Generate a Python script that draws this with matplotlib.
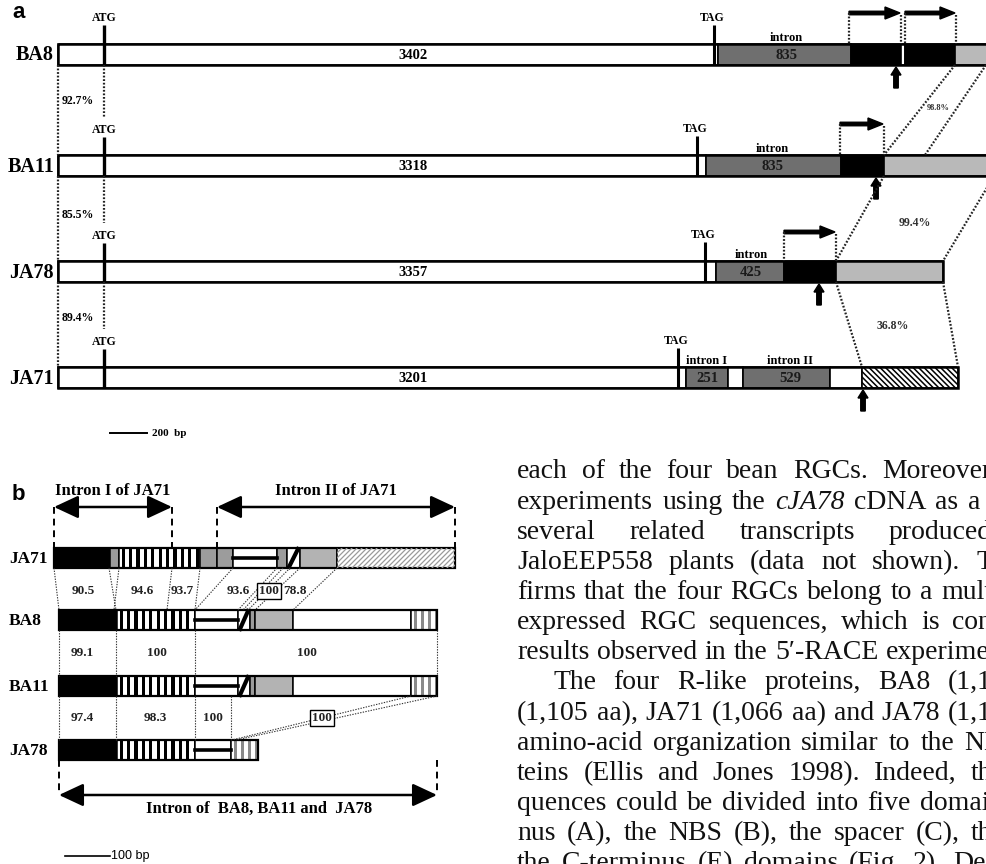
import numpy as np
import matplotlib.pyplot as plt
from matplotlib.patches import Rectangle

SERIF = ['Liberation Serif', 'DejaVu Serif']
SANS = ['Liberation Sans', 'DejaVu Sans']

# ---------------- panel a data ----------------
genes_a = ['BA8', 'BA11', 'JA78', 'JA71']
cds_len = ['3402', '3318', '3357', '3201']
atg_identity = ['92.7%', '85.5%', '89.4%']
atg_identity_y = [101, 215, 318]
row_top_a = [44, 155, 261, 367]
tag_x = [714, 697, 705, 678]
seg_a = [
    [(58, 714, 'white'), (714, 718, 'white'), (718, 851, 'dark'), (851, 901, 'black'),
     (901, 905, 'white'), (905, 955, 'black'), (955, 1010, 'light')],
    [(58, 697, 'white'), (697, 706, 'white'), (706, 841, 'dark'), (841, 884, 'black'),
     (884, 1010, 'light')],
    [(58, 705, 'white'), (705, 716, 'white'), (716, 784, 'dark'), (784, 836, 'black'),
     (836, 943, 'light')],
    [(58, 678, 'white'), (678, 686, 'white'), (686, 728, 'dark'), (728, 743, 'white'),
     (743, 830, 'dark'), (830, 862, 'white'), (862, 958, 'hatch')],
]
intron_lbl = [[('intron', '835', 786)], [('intron', '835', 772)], [('intron', '425', 751)],
              [('intron I', '251', 707), ('intron II', '529', 790)]]
tss_arrows = [[(849, 900), (905, 955)], [(840, 883)], [(784, 835)], []]
tss_y = [13, 124, 232, None]
up_arrow_x = [896, 876, 819, 863]
utr_identity = [('98.8%', 938, 108, 6), ('99.4%', 915, 223, 8.5), ('36.8%', 893, 326, 8.5)]
utr_links = [((955, 65), (884, 155)), ((986, 65), (925, 155)),
             ((884, 176), (836, 261)), ((994, 176), (943, 261)),
             ((836, 282), (862, 367)), ((943, 282), (958, 367))]

# ---------------- panel b data ----------------
genes_b = ['JA71', 'BA8', 'BA11', 'JA78']
row_top_b = [548, 610, 676, 740]
seg_b = [
    [(54, 110, 'black'), (110, 119, 'gray'), (119, 200, 'stripe'), (200, 217, 'gray'),
     (217, 233, 'gray'), (233, 277, 'hline'), (277, 287, 'gray'), (287, 300, 'slash'),
     (300, 337, 'light'), (337, 455, 'hatch')],
    [(59, 117, 'black'), (117, 195, 'stripe'), (195, 238, 'hline'), (238, 250, 'slash'),
     (250, 255, 'gray'), (255, 293, 'light'), (293, 411, 'white'), (411, 437, 'gstripe')],
    [(59, 117, 'black'), (117, 195, 'stripe'), (195, 238, 'hline'), (238, 250, 'slash'),
     (250, 255, 'gray'), (255, 293, 'light'), (293, 411, 'white'), (411, 437, 'gstripe')],
    [(59, 117, 'black'), (117, 195, 'stripe'), (195, 231, 'hline'), (231, 258, 'gstripe')],
]
links_b = [
    [(54, 59), (109, 116), (119, 114), (172, 167), (200, 195), (233, 195), (277, 238),
     (283, 243), (290, 248), (300, 255), (337, 293)],
    [(59, 59), (116, 116), (195, 195), (437, 437)],
    [(59, 59), (116, 116), (195, 195), (231, 231), (411, 232), (437, 236)],
]
ident_b = [
    [('90.5', 83), ('94.6', 142), ('93.7', 182), ('93.6', 238), ('100', 269), ('78.8', 295)],
    [('99.1', 82), ('100', 157), ('100', 307)],
    [('97.4', 82), ('98.3', 155), ('100', 213), ('100', 322)],
]
ident_b_y = [591, 653, 718]
boxed_b = [(0, 4), (2, 3)]

# ---------------- body text (justified column, cut at the right edge) ----------------
body_y0 = 472
body_dy = 30.14
body_lines = [
    'each of the four bean RGCs. Moreover',
    'experiments using the cJA78 cDNA as a',
    'several related transcripts produced',
    'JaloEEP558 plants (data not shown). T',
    'firms that the four RGCs belong to a mult',
    'expressed RGC sequences, which is con',
    'results observed in the 5\u2032-RACE experime',
    'The four R-like proteins, BA8 (1,1',
    '(1,105 aa), JA71 (1,066 aa) and JA78 (1,1',
    'amino-acid organization similar to the NB',
    'teins (Ellis and Jones 1998). Indeed, th',
    'quences could be divided into five domai',
    'nus (A), the NBS (B), the spacer (C), th',
    'the C-terminus (E) domains (Fig. 2). De',
]
body_left = [517, 517, 517, 517, 517, 517, 517, 553, 517, 517, 517, 517, 517, 517]
body_right = [991, 980, 992, 993, 992, 992, 990, 992, 992, 1003, 992, 990, 992, 986]
italic_words = ['cJA78']

fill_a = {'white': 'white', 'dark': '#6f6f6f', 'black': 'black', 'light': '#b9b9b9', 'hatch': 'white'}
fill_b = {'white': 'white', 'black': 'black', 'gray': '#9c9c9c', 'light': '#b3b3b3'}

fig = plt.figure(figsize=(9.87, 8.64), dpi=100)
ax = fig.add_axes([0, 0, 1, 1])
ax.set_xlim(0, 987)
ax.set_ylim(864, 0)
ax.axis('off')


def dotted(p0, p1, lw=1.6, color='#222222'):
    ax.plot([p0[0], p1[0]], [p0[1], p1[1]], color=color, lw=lw, ls=(0, (0.8, 0.8)))


def diag(x0, x1, y0, y1, step, color, lw, forward):
    clip = Rectangle((x0, y0), x1 - x0, y1 - y0, fc='white', ec='none')
    ax.add_patch(clip)
    h = y1 - y0
    for s in np.arange(x0 - h, x1 + h, step):
        if forward:
            ln, = ax.plot([s, s + h], [y1, y0], color=color, lw=lw)
        else:
            ln, = ax.plot([s, s + h], [y0, y1], color=color, lw=lw)
        ln.set_clip_path(clip)


def vstripes(x0, x1, y0, y1, step, width, color):
    ax.add_patch(Rectangle((x0, y0), x1 - x0, y1 - y0, fc='white', ec='none'))
    for s in np.arange(x0 + 2.5, x1 - 1, step):
        ax.add_patch(Rectangle((s, y0), width, y1 - y0, fc=color, ec='none'))


# ================= panel a =================
ax.text(12, 12, 'a', family=SANS, weight='bold', fontsize=16, va='center', ha='left')
h_a = 21
for i, g in enumerate(genes_a):
    top = row_top_a[i]
    bot = top + h_a
    for x0, x1, kind in seg_a[i]:
        if kind == 'hatch':
            diag(x0, x1, top, bot, 5.5, 'black', 1.1, False)
            ax.add_patch(Rectangle((x0, top), x1 - x0, h_a, fc='none', ec='black', lw=1.2))
        else:
            ax.add_patch(Rectangle((x0, top), x1 - x0, h_a, fc=fill_a[kind], ec='black', lw=1.2))
    bar_end = seg_a[i][-1][1]
    ax.add_patch(Rectangle((58, top), bar_end - 58, h_a, fc='none', ec='black', lw=1.8))
    ax.text(54, top + h_a / 2 + 1, g, family=SERIF, weight='bold', fontsize=14.5, ha='right', va='center')
    ax.text(413, top + h_a / 2 + 1, cds_len[i], family=SERIF, weight='bold', fontsize=10.5, ha='center', va='center')
    # ATG
    atg_top = top - 19 if i == 0 else top - 18
    ax.plot([104, 104], [atg_top, bot], color='black', lw=2.4, solid_capstyle='butt')
    ax.text(104, atg_top - 7, 'ATG', family=SERIF, weight='bold', fontsize=8.5, ha='center', va='center')
    # TAG
    ax.plot([tag_x[i], tag_x[i]], [top - 19, bot], color='black', lw=2.2, solid_capstyle='butt')
    ax.text(tag_x[i] - 2, top - 26, 'TAG', family=SERIF, weight='bold', fontsize=8.5, ha='center', va='center')
    for lab, num, x in intron_lbl[i]:
        ax.text(x, top - 6, lab, family=SERIF, weight='bold', fontsize=9, ha='center', va='center')
        ax.text(x, top + h_a / 2 + 1, num, family=SERIF, weight='bold', fontsize=10.5, ha='center', va='center',
                color='#1a1a1a')
    # transcription start arrows
    for x0, x1 in tss_arrows[i]:
        y = tss_y[i]
        dotted((x0, y), (x0, top))
        dotted((x1 + 1, y + 2), (x1 + 1, top))
        ax.arrow(x0, y, x1 - x0, 0, width=3.5, head_width=12, head_length=15,
                 length_includes_head=True, fc='black', ec='black')
    # up arrow
    ax.arrow(up_arrow_x[i], bot + 23, 0, -21, width=4.5, head_width=10, head_length=8,
             length_includes_head=True, fc='black', ec='black')
    # ATG identity links
    if i < 3:
        nxt = row_top_a[i + 1]
        dotted((58, bot), (58, nxt))
        dotted((104, bot), (104, nxt - 38))
        ax.text(62, atg_identity_y[i], atg_identity[i], family=SERIF, weight='bold', fontsize=8.5,
                ha='left', va='center')

for p0, p1 in utr_links:
    dotted(p0, p1)
for t, x, y, fs in utr_identity:
    ax.text(x, y, t, family=SERIF, weight='bold', fontsize=fs, ha='center', va='center', color='#333333')

ax.plot([110, 147], [433, 433], color='black', lw=1.4)
ax.text(152, 433, '200  bp', family=SERIF, weight='bold', fontsize=8, ha='left', va='center')

# ================= panel b =================
ax.text(12, 495, 'b', family=SANS, weight='bold', fontsize=16, va='center', ha='left')
h_b = 20
for i, g in enumerate(genes_b):
    top = row_top_b[i]
    bot = top + h_b
    for x0, x1, kind in seg_b[i]:
        if kind == 'stripe':
            vstripes(x0, x1, top, bot, 7.4, 3.2, 'black')
        elif kind == 'gstripe':
            vstripes(x0, x1, top, bot, 7.0, 3.0, '#8a8a8a')
        elif kind == 'hatch':
            diag(x0, x1, top, bot, 5.0, '#9a9a9a', 0.9, True)
        elif kind == 'hline':
            ax.add_patch(Rectangle((x0, top), x1 - x0, h_b, fc='white', ec='none'))
            ax.plot([x0, x1], [top + h_b / 2, top + h_b / 2], color='black', lw=2.6)
        elif kind == 'slash':
            ax.add_patch(Rectangle((x0, top), x1 - x0, h_b, fc='white', ec='none'))
            ax.plot([x0 + 2, x1 - 2], [bot - 1, top + 1], color='black', lw=3.0)
        else:
            ax.add_patch(Rectangle((x0, top), x1 - x0, h_b, fc=fill_b[kind], ec='none'))
        ax.add_patch(Rectangle((x0, top), x1 - x0, h_b, fc='none', ec='black', lw=1.1))
    x_start = seg_b[i][0][0]
    x_end = seg_b[i][-1][1]
    ax.add_patch(Rectangle((x_start, top), x_end - x_start, h_b, fc='none', ec='black', lw=1.6))
    ax.text(9, top + h_b / 2 + 1, g, family=SERIF, weight='bold', fontsize=12.5,
            ha='left', va='center')

for k, pairs in enumerate(links_b):
    y0 = row_top_b[k] + h_b
    y1 = row_top_b[k + 1]
    for xa, xb in pairs:
        ax.plot([xa, xb], [y0, y1], color='#333333', lw=0.8, ls=(0, (1.2, 1.2)))
    for j, (t, x) in enumerate(ident_b[k]):
        boxed = (k, j) in boxed_b
        ax.text(x, ident_b_y[k], t, family=SERIF, weight='bold', fontsize=9.5, ha='center', va='center',
                color='#222222',
                bbox=dict(boxstyle='square,pad=0.15', fc='white', ec='black', lw=1.0) if boxed else None)

arrow_style = '<|-|>,head_length=0.75,head_width=0.35'
spans = [('Intron I of JA71', 54, 172, 507, 491), ('Intron II of JA71', 217, 455, 507, 491)]
for t, x0, x1, y, ty in spans:
    ax.annotate('', xy=(x1, y), xytext=(x0, y),
                arrowprops=dict(arrowstyle=arrow_style, mutation_scale=20, lw=1.8, color='black',
                                shrinkA=0, shrinkB=0))
    ax.plot([x0, x0], [y, 548], color='black', lw=1.4, ls=(0, (3.5, 2.5)))
    ax.plot([x1, x1], [y, 548], color='black', lw=1.4, ls=(0, (3.5, 2.5)))
    ax.text((x0 + x1) / 2, ty, t, family=SERIF, weight='bold', fontsize=12, ha='center', va='center')

ax.plot([59, 59], [760, 795], color='black', lw=1.4, ls=(0, (3.5, 2.5)))
ax.plot([437, 437], [760, 795], color='black', lw=1.4, ls=(0, (3.5, 2.5)))
ax.annotate('', xy=(437, 795), xytext=(59, 795),
            arrowprops=dict(arrowstyle=arrow_style, mutation_scale=20, lw=1.8, color='black',
                            shrinkA=0, shrinkB=0))
ax.text(259, 809, 'Intron of  BA8, BA11 and  JA78', family=SERIF, weight='bold', fontsize=12,
        ha='center', va='center')

ax.plot([65, 110], [856, 856], color='black', lw=1.2)
ax.text(111, 856, '100 bp', family=SANS, fontsize=9, ha='left', va='center')

# ================= body text, justified word by word =================
renderer = fig.canvas.get_renderer()
for k, line in enumerate(body_lines):
    y = body_y0 + k * body_dy
    words = line.split(' ')
    texts = [ax.text(0, y, w, family=SERIF, fontsize=20, ha='left', va='center', color='#111111',
                     style='italic' if w in italic_words else 'normal') for w in words]
    widths = [t.get_window_extent(renderer=renderer).width for t in texts]
    gap = (body_right[k] - body_left[k] - sum(widths)) / max(len(words) - 1, 1)
    x = body_left[k]
    for t, w in zip(texts, widths):
        t.set_x(x)
        x += w + gap

fig.savefig('out.png', dpi=100)
